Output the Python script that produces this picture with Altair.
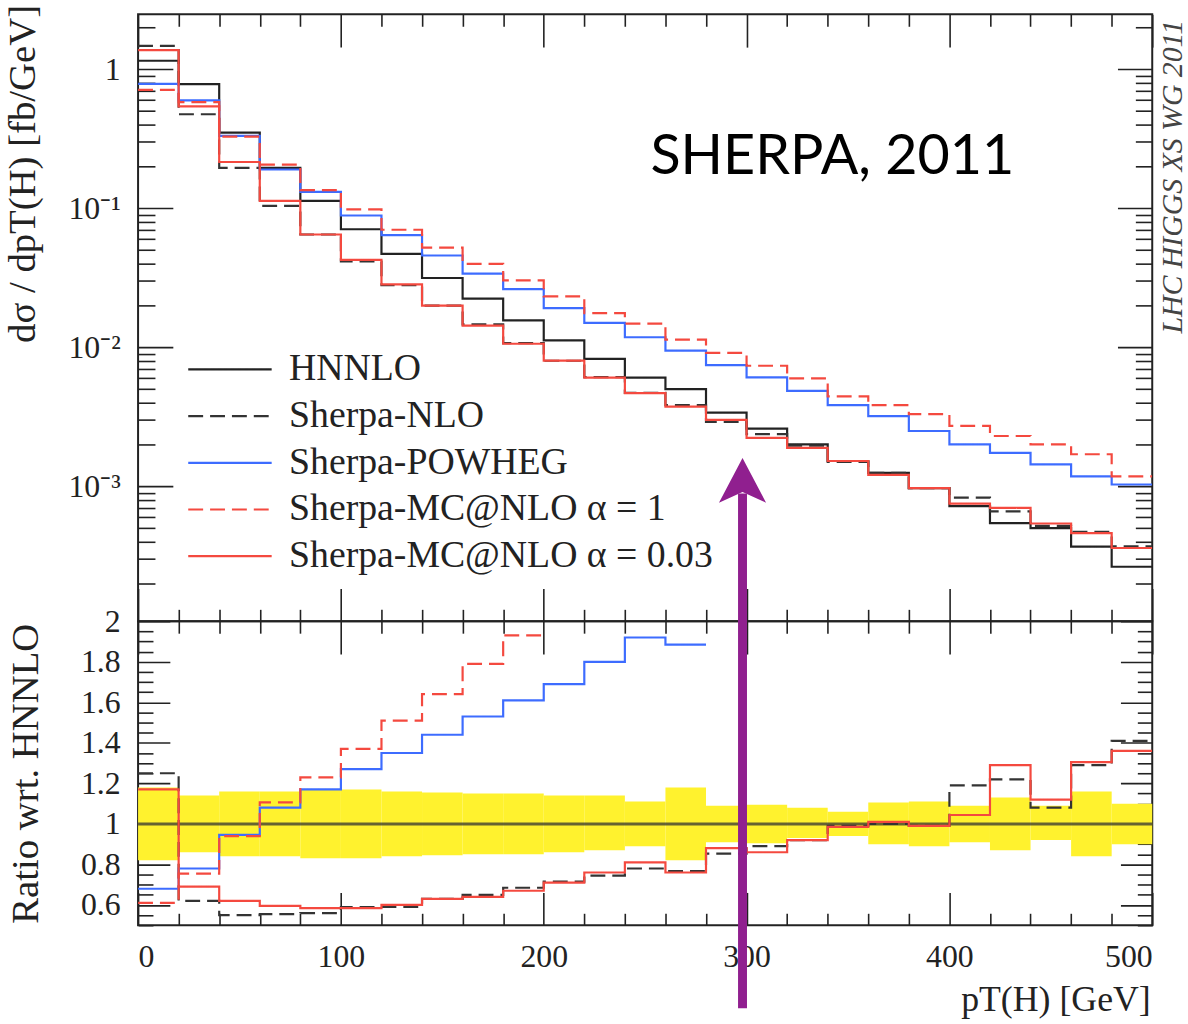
import altair as alt
import pandas as pd

# ---------------- data ----------------
edges = [0, 20, 40, 60, 80, 100, 120, 140, 160, 180, 200, 220, 240, 260, 280,
         300, 320, 340, 360, 380, 400, 420, 440, 460, 480, 500]

series_names = ["HNNLO", "Sherpa-NLO", "Sherpa-POWHEG",
                "Sherpa-MC@NLO α = 1", "Sherpa-MC@NLO α = 0.03"]
series_colors = ["#222222", "#333333", "#3d6cff", "#f4493f", "#f4493f"]
series_dash = [[1, 0], [15, 7], [1, 0], [15, 7], [1, 0]]

# d sigma / d pT  [fb/GeV], one value per 20 GeV bin
hnnlo = [1.15, 0.78, 0.35, 0.195, 0.113, 0.0706, 0.0469, 0.0315, 0.0224, 0.0156,
         0.0112, 0.00824, 0.00604, 0.0050, 0.00339, 0.0026, 0.0020, 0.00152,
         0.00125, 0.00097, 0.00072, 0.000543, 0.000501, 0.000368, 0.000264]
sherpa_nlo = [1.47, 0.474, 0.195, 0.104, 0.0647, 0.0414, 0.0280, 0.0199, 0.0146,
              0.0107, 0.0080, 0.0061, 0.0047, 0.00384, 0.00291, 0.00237, 0.00196,
              0.0015, 0.00125, 0.00097, 0.00083, 0.00066, 0.00052, 0.00047, 0.00037]
powheg = [0.783, 0.596, 0.331, 0.19, 0.131, 0.0887, 0.064, 0.0457, 0.0339, 0.0262,
          0.0191, 0.015, 0.0118, 0.00946, 0.00745, 0.00607, 0.00486, 0.00383,
          0.0032, 0.0025, 0.0020, 0.00174, 0.00144, 0.00118, 0.00103]
mcnlo_a1 = [0.71, 0.58, 0.327, 0.206, 0.135, 0.098, 0.070, 0.052, 0.0398, 0.0303,
            0.0232, 0.0176, 0.0148, 0.01135, 0.0091, 0.00736, 0.00597, 0.00443,
            0.00383, 0.0033, 0.00272, 0.0023, 0.0020, 0.0017, 0.00118]
mcnlo_a003 = [1.37, 0.54, 0.215, 0.113, 0.0647, 0.0425, 0.0283, 0.0199, 0.0143,
              0.0106, 0.00802, 0.00604, 0.00468, 0.00374, 0.0030, 0.00223, 0.00189,
              0.00152, 0.00121, 0.00097, 0.00075, 0.0007, 0.00054, 0.00046, 0.00036]

# ratio w.r.t. HNNLO (only the bins that are visible in the 0.5-2 window)
ratio_nlo = [1.25, 0.62, 0.55, 0.555, 0.56, 0.59, 0.59, 0.63, 0.65, 0.685, 0.715,
             0.745, 0.78, 0.767, 0.853, 0.89, 0.92, 0.99, 1.0, 0.99, 1.19, 1.22,
             1.08, 1.29, 1.41]
ratio_powheg = [0.68, 0.78, 0.946, 1.08, 1.17, 1.27, 1.35, 1.44, 1.53, 1.61, 1.69,
                1.80, 1.92, 1.885]
ratio_a1 = [0.61, 0.755, 0.94, 1.106, 1.23, 1.37, 1.51, 1.64, 1.79, 1.93]
ratio_a003 = [1.17, 0.69, 0.62, 0.595, 0.584, 0.584, 0.60, 0.63, 0.64, 0.67, 0.71,
              0.76, 0.81, 0.76, 0.88, 0.86, 0.92, 0.985, 1.01, 0.99, 1.044, 1.29,
              1.12, 1.305, 1.36]

# HNNLO uncertainty band (ratio)
band_up = [1.18, 1.14, 1.16, 1.16, 1.17, 1.17, 1.16, 1.155, 1.15, 1.15, 1.14, 1.14,
           1.11, 1.18, 1.09, 1.095, 1.08, 1.06, 1.105, 1.11, 1.09, 1.13, 1.09, 1.16, 1.10]
band_down = [0.82, 0.86, 0.84, 0.84, 0.83, 0.83, 0.84, 0.845, 0.85, 0.85, 0.86, 0.87,
             0.89, 0.82, 0.91, 0.905, 0.93, 0.94, 0.90, 0.89, 0.91, 0.87, 0.92, 0.84, 0.90]
ratio_ref = [1.0]

# axis tick values
x_major = [0, 100, 200, 300, 400, 500]
x_minor = [20, 40, 60, 80, 120, 140, 160, 180, 220, 240, 260, 280, 320, 340, 360,
           380, 420, 440, 460, 480]
ytop_major = [1, 0.1, 0.01, 0.001]
ytop_minor = [2e-4, 3e-4, 4e-4, 5e-4, 6e-4, 7e-4, 8e-4, 9e-4,
              2e-3, 3e-3, 4e-3, 5e-3, 6e-3, 7e-3, 8e-3, 9e-3,
              2e-2, 3e-2, 4e-2, 5e-2, 6e-2, 7e-2, 8e-2, 9e-2,
              0.2, 0.3, 0.4, 0.5, 0.6, 0.7, 0.8, 0.9, 2.0]
yrat_major = [0.6, 0.8, 1.0, 1.2, 1.4, 1.6, 1.8, 2.0]
yrat_minor = [0.5, 0.55, 0.65, 0.7, 0.75, 0.85, 0.9, 0.95, 1.05, 1.1, 1.15, 1.25,
              1.3, 1.35, 1.45, 1.5, 1.55, 1.65, 1.7, 1.75, 1.85, 1.9, 1.95]

# annotation arrow (pT position, ratio-scale extent)
arrow_x = [298]
arrow_bottom = [0.09]
arrow_top = [2.63]
arrow_head = [2.69]

# ---------------- tables ----------------
def step_rows(name, vals, key):
    rows = []
    for i, v in enumerate(vals):
        rows.append({"series": name, "x": edges[i], key: v, "k": 2 * i})
        rows.append({"series": name, "x": edges[i + 1], key: v, "k": 2 * i + 1})
    return rows

top_rows = []
for nm, vals in zip(series_names, [hnnlo, sherpa_nlo, powheg, mcnlo_a1, mcnlo_a003]):
    top_rows += step_rows(nm, vals, "v")
df_top = pd.DataFrame(top_rows)

rat_rows = []
for nm, vals in zip(series_names[1:], [ratio_nlo, ratio_powheg, ratio_a1, ratio_a003]):
    rat_rows += step_rows(nm, vals, "r")
df_rat = pd.DataFrame(rat_rows)

df_band = pd.DataFrame({"lo": edges[:-1], "hi": edges[1:], "up": band_up, "down": band_down})
df_ref = pd.DataFrame({"x0": [edges[0]], "x1": [edges[-1]], "r": ratio_ref})
df_arrow = pd.DataFrame({"x": arrow_x, "y": arrow_bottom, "y2": arrow_top, "h": arrow_head})

# ---------------- styling ----------------
SERIF = "Liberation Serif"
INK = "#222222"
W, H_TOP, H_RAT = 1021, 611, 306

xscale = alt.Scale(domain=[0, 500], nice=False, zero=False)
ytop_scale = alt.Scale(type="log", domain=[1.07e-4, 2.48], nice=False)
yrat_scale = alt.Scale(domain=[0.5, 2.0], nice=False, zero=False)
color_scale = alt.Scale(domain=series_names, range=series_colors)
dash_scale = alt.Scale(domain=series_names, range=series_dash)


def tick_axis(orient, values, size):
    return alt.Axis(orient=orient, values=values, tickSize=size, offset=-size,
                    grid=False, domain=False, labels=False, title=None,
                    tickColor=INK, tickWidth=1.6)


legend = alt.Legend(orient="none", legendX=70, legendY=335, title=None,
                    symbolType="M-2,0L2,0", symbolSize=1764, symbolStrokeWidth=2.2,
                    symbolFillColor="transparent",
                    labelFont=SERIF, labelFontSize=38, labelColor=INK,
                    labelLimit=800, rowPadding=5, labelOffset=37, padding=0)

# ---------------- top panel ----------------
yl_label_top = alt.Axis(orient="left", values=ytop_major, ticks=False, domain=False,
                        grid=False, labelFont=SERIF, labelFontSize=32, labelColor=INK,
                        labelPadding=18,
                        labelExpr="datum.value > 0.5 ? '1' : datum.value > 0.05 ? '10⁻¹' : datum.value > 0.005 ? '10⁻²' : '10⁻³'",
                        title="dσ / dpT(H)  [fb/GeV]", titleFont=SERIF, titleFontSize=39,
                        titleFontWeight="normal", titleColor=INK, titleAngle=270,
                        titleAlign="right", titleBaseline="alphabetic",
                        titleX=-104, titleY=-10)

yr_major_top = alt.Axis(orient="right", values=ytop_major, tickSize=35, offset=-35,
                        grid=False, domain=False, labels=False, tickColor=INK,
                        tickWidth=1.6, title="LHC HIGGS XS WG 2011", titleFont=SERIF,
                        titleFontSize=30, titleFontStyle="italic",
                        titleFontWeight="normal", titleColor="#444444",
                        titleAngle=270, titleAlign="right", titleBaseline="alphabetic",
                        titleX=64, titleY=5)

lines_top = alt.Chart(df_top).mark_line(strokeWidth=2.2, clip=True).encode(
    x=alt.X("x:Q", scale=xscale, axis=tick_axis("bottom", x_major, 33)),
    y=alt.Y("v:Q", scale=ytop_scale, axis=yl_label_top),
    color=alt.Color("series:N", scale=color_scale, legend=legend, sort=series_names),
    strokeDash=alt.StrokeDash("series:N", scale=dash_scale, legend=legend, sort=series_names),
    order="k:Q",
)


def carrier(df, yfield, yscale, xaxis, yaxis):
    return alt.Chart(df).mark_point(opacity=0, size=1).encode(
        x=alt.X("x:Q", scale=xscale, axis=xaxis),
        y=alt.Y(yfield, scale=yscale, axis=yaxis),
    )


top = alt.layer(
    lines_top,
    carrier(df_top, "v:Q", ytop_scale, tick_axis("bottom", x_minor, 12), tick_axis("left", ytop_major, 35)),
    carrier(df_top, "v:Q", ytop_scale, tick_axis("top", x_major, 33), tick_axis("left", ytop_minor, 17)),
    carrier(df_top, "v:Q", ytop_scale, tick_axis("top", x_minor, 12), yr_major_top),
    carrier(df_top, "v:Q", ytop_scale, None, tick_axis("right", ytop_minor, 17)),
).resolve_axis(x="independent", y="independent").properties(
    width=W, height=H_TOP,
    title=alt.TitleParams("SHERPA, 2011", orient="top", anchor="end", frame="group",
                          offset=-183, dx=-139, font="Lato", fontSize=56,
                          fontWeight="normal", color="#000000"),
)

# ---------------- ratio panel ----------------
xb_label = alt.Axis(orient="bottom", values=x_major, ticks=False, domain=False, grid=False,
                    labelFont=SERIF, labelFontSize=32, labelColor=INK, labelPadding=17,
                    title="pT(H) [GeV]", titleFont=SERIF, titleFontSize=36,
                    titleFontWeight="normal", titleColor=INK, titleAlign="right",
                    titleBaseline="alphabetic", titleX=W - 2, titleY=86)
yl_label_rat = alt.Axis(orient="left", values=yrat_major, ticks=False, domain=False,
                        grid=False, labelFont=SERIF, labelFontSize=32, labelColor=INK,
                        labelPadding=18, format="~g",
                        title="Ratio wrt. HNNLO", titleFont=SERIF, titleFontSize=39,
                        titleFontWeight="normal", titleColor=INK, titleAngle=270,
                        titleAlign="center", titleBaseline="alphabetic",
                        titleX=-101, titleY=H_RAT / 2)

band = alt.Chart(df_band).mark_rect(color="#fff22e").encode(
    x=alt.X("lo:Q", scale=xscale, axis=xb_label),
    x2="hi:Q",
    y=alt.Y("down:Q", scale=yrat_scale, axis=yl_label_rat),
    y2="up:Q",
)
ref_line = alt.Chart(df_ref).mark_rule(color="#333333", opacity=0.75, strokeWidth=3).encode(
    x=alt.X("x0:Q", scale=xscale, axis=None),
    x2="x1:Q",
    y=alt.Y("r:Q", scale=yrat_scale, axis=None),
)
lines_rat = alt.Chart(df_rat).mark_line(strokeWidth=2.2, clip=True).encode(
    x=alt.X("x:Q", scale=xscale, axis=tick_axis("bottom", x_major, 33)),
    y=alt.Y("r:Q", scale=yrat_scale, axis=tick_axis("left", yrat_major, 32)),
    color=alt.Color("series:N", scale=color_scale, legend=None),
    strokeDash=alt.StrokeDash("series:N", scale=dash_scale, legend=None),
    order="k:Q",
)
PURPLE = "#901f8f"
shaft = alt.Chart(df_arrow).mark_rule(color=PURPLE, strokeWidth=9, clip=False).encode(
    x=alt.X("x:Q", scale=xscale, axis=None),
    y=alt.Y("y:Q", scale=yrat_scale, axis=None),
    y2="y2:Q",
)
head = alt.Chart(df_arrow).mark_point(
    shape="M0,-1 L1,0.9 L0,0.45 L-1,0.9 Z", filled=True, size=2250,
    color=PURPLE, opacity=1, strokeWidth=0, clip=False,
).encode(
    x=alt.X("x:Q", scale=xscale, axis=None),
    y=alt.Y("h:Q", scale=yrat_scale, axis=None),
)

ratio = alt.layer(
    band,
    ref_line,
    lines_rat,
    carrier(df_rat, "r:Q", yrat_scale, tick_axis("bottom", x_minor, 12), tick_axis("left", yrat_minor, 15)),
    carrier(df_rat, "r:Q", yrat_scale, tick_axis("top", x_major, 33), tick_axis("right", yrat_major, 32)),
    carrier(df_rat, "r:Q", yrat_scale, tick_axis("top", x_minor, 12), tick_axis("right", yrat_minor, 15)),
    shaft,
    head,
).resolve_axis(x="independent", y="independent").properties(width=W, height=H_RAT)

chart = alt.vconcat(top, ratio, spacing=0, bounds="flush").resolve_legend(
    color="independent", strokeDash="independent"
).properties(
    padding={"left": 3, "top": 0, "right": 0, "bottom": 0},
    background="white",
).configure_view(stroke=INK, strokeWidth=2)

chart.save("out.html", embed_options={"renderer": "svg", "actions": False})
